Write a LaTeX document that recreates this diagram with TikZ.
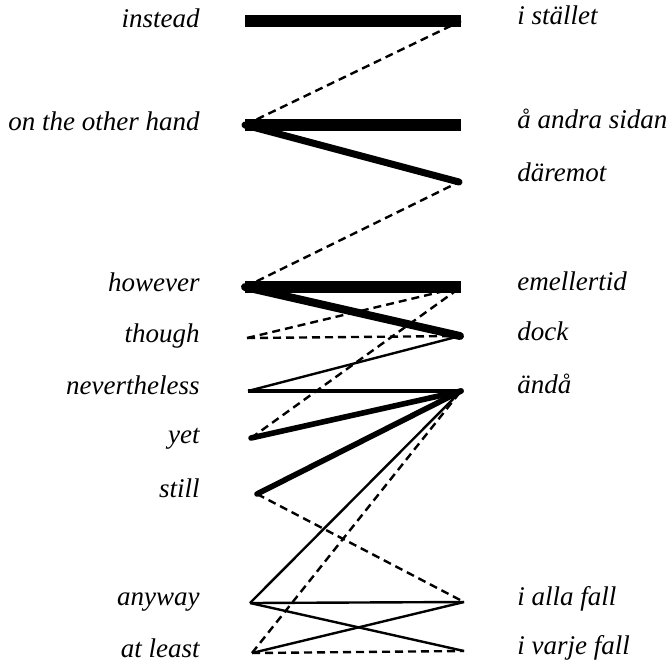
\documentclass[tikz,border=0pt]{standalone}
\usepackage{fontspec}
\setmainfont{Liberation Serif}
\usetikzlibrary{positioning}

\begin{document}
\begin{tikzpicture}[
        x=0.5pt, y=-0.5pt,
        word/.style={font=\fontsize{13.5}{16}\selectfont\itshape, inner sep=0pt},
        en/.style={word, anchor=base east},
        sv/.style={word, anchor=base west},
        heavy/.style={line width=6pt},
        strong/.style={line width=4pt, line cap=round},
        medium/.style={line width=2.8pt, line cap=round},
        fair/.style={line width=2pt},
        weak/.style={line width=1.2pt},
        rare/.style={line width=1.2pt, dash pattern=on 4pt off 2.5pt},
    ]
        \useasboundingbox (0,0) rectangle (668,664);

        % English words
        \node[en] (instead) at (200,27) {instead};
        \node[en] (other) at (200,130) {on the other hand};
        \node[en] (however) at (200,291) {however};
        \node[en] (though) at (200,342) {though};
        \node[en] (never) at (200,394) {nevertheless};
        \node[en] (yet) at (200,443) {yet};
        \node[en] (still) at (200,497) {still};
        \node[en] (anyway) at (200,605) {anyway};
        \node[en] (atleast) at (200,657) {at least};

        % Swedish words
        \node[sv] (stallet) at (517,25) {i stället};
        \node[sv] (andra) at (517,128) {å andra sidan};
        \node[sv] (daremot) at (517,181) {däremot};
        \node[sv] (emell) at (517,290) {emellertid};
        \node[sv] (dock) at (517,340) {dock};
        \node[sv] (anda) at (517,393) {ändå};
        \node[sv] (alla) at (517,605) {i alla fall};
        \node[sv] (varje) at (517,654) {i varje fall};

        % Line ends
        \coordinate (l-instead) at (245,21);
        \coordinate (l-other) at (245,125);
        \coordinate (l-however) at (245,287);
        \coordinate (l-though) at (247,338);
        \coordinate (l-never) at (248,391);
        \coordinate (l-yet) at (251,438);
        \coordinate (l-still) at (257,494);
        \coordinate (l-anyway) at (250,603);
        \coordinate (l-atleast) at (252,653);
        \coordinate (r-stallet) at (461,21);
        \coordinate (r-andra) at (461,125);
        \coordinate (r-daremot) at (459,182);
        \coordinate (r-emell) at (461,287);
        \coordinate (r-dock) at (460,336);
        \coordinate (r-anda) at (461,391);
        \coordinate (r-alla) at (464,602);
        \coordinate (r-varje) at (464,651);

        % Links
        \draw[heavy] (l-instead) -- (r-stallet);
        \draw[rare] (l-other) -- (r-stallet);
        \draw[heavy] (l-other) -- (r-andra);
        \draw[line width=3.5pt, line cap=round] (l-other) -- (r-daremot);
        \draw[rare] (l-however) -- (r-daremot);
        \draw[heavy] (l-however) -- (r-emell);
        \draw[strong] (l-however) -- (r-dock);
        \draw[rare] (l-though) -- (r-emell);
        \draw[rare] (l-though) -- (r-dock);
        \draw[weak] (l-never) -- (r-dock);
        \draw[fair] (l-never) -- (r-anda);
        \draw[rare] (l-yet) -- (r-emell);
        \draw[medium] (l-yet) -- (r-anda);
        \draw[medium] (l-still) -- (r-anda);
        \draw[rare] (l-still) -- (r-alla);
        \draw[weak] (l-anyway) -- (r-anda);
        \draw[rare] (l-atleast) -- (r-anda);
        \draw[weak] (l-anyway) -- (r-alla);
        \draw[weak] (l-anyway) -- (r-varje);
        \draw[weak] (l-atleast) -- (r-alla);
        \draw[rare] (l-atleast) -- (r-varje);

    \end{tikzpicture}
\end{document}
